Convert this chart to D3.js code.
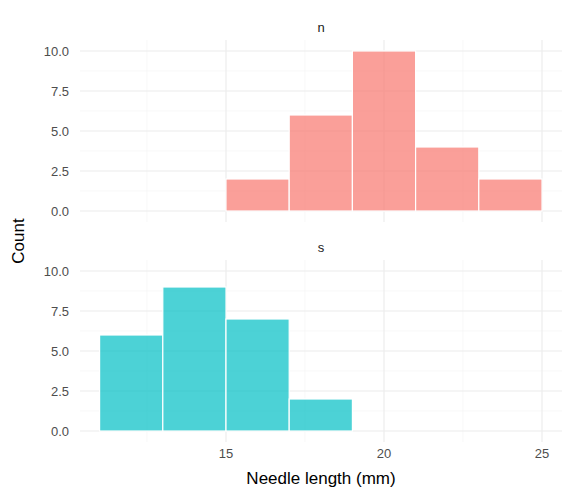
<!DOCTYPE html>
<html><head><meta charset="utf-8">
<script src="https://cdn.jsdelivr.net/npm/d3@7"></script>
<style>body{margin:0;background:#fff}</style></head>
<body><svg id="c" width="576" height="499"></svg>
<script>
const binStarts = [11,13,15,17,19,21,23];
const binWidth = 2;
const countsN = [0,0,2,6,10,4,2];
const countsS = [6,9,7,2,0,0,0];
const panels = ["n","s"];
const colors = ["#F8766D","#00BFC4"];
const xTicks = [15,20,25];
const yTicks = [0,2.5,5,7.5,10];

const svg = d3.select("#c");
const font = "Liberation Sans, Arial, sans-serif";
const x = d3.scaleLinear().domain([15,25]).range([226,542]);
const panelTops = [40,260], panelH = 182;
const L = 80, R = 562;
[countsN,countsS].forEach((counts,i)=>{
  const top = panelTops[i];
  const y = d3.scaleLinear().domain([0,10]).range([top+171,top+11]);
  const g = svg.append("g");
  // minor grid
  const xMin=[12.5,17.5,22.5], yMin=[1.25,3.75,6.25,8.75];
  xMin.forEach(v=>g.append("line").attr("x1",x(v)).attr("x2",x(v)).attr("y1",top).attr("y2",top+panelH).attr("stroke","#f3f3f3").attr("stroke-width",0.6));
  yMin.forEach(v=>g.append("line").attr("x1",L).attr("x2",R).attr("y1",y(v)).attr("y2",y(v)).attr("stroke","#f3f3f3").attr("stroke-width",0.6));
  xTicks.forEach(v=>g.append("line").attr("x1",x(v)).attr("x2",x(v)).attr("y1",top).attr("y2",top+panelH).attr("stroke","#ebebeb").attr("stroke-width",1.1));
  yTicks.forEach(v=>g.append("line").attr("x1",L).attr("x2",R).attr("y1",y(v)).attr("y2",y(v)).attr("stroke","#ebebeb").attr("stroke-width",1.1));
  g.selectAll("rect.b").data(counts.map((c,j)=>({c,s:binStarts[j]}))).enter().append("rect")
    .attr("x",d=>x(d.s)).attr("width",d=>x(d.s+binWidth)-x(d.s))
    .attr("y",d=>y(d.c)).attr("height",d=>y(0)-y(d.c))
    .attr("fill",colors[i]).attr("fill-opacity",0.7).attr("stroke","#fff").attr("stroke-width",1.2);
  yTicks.forEach(v=>g.append("text").attr("x",L-11).attr("y",y(v)).attr("dy","0.35em").attr("text-anchor","end")
    .attr("font-family",font).attr("font-size",13).attr("fill","#4d4d4d").text(v.toFixed(1)));
  g.append("text").attr("x",(L+R)/2).attr("y",top-8).attr("text-anchor","middle").attr("font-family",font)
    .attr("font-size",13).attr("fill","#1a1a1a").text(panels[i]);
});
const yB = 442;
xTicks.forEach(v=>svg.append("text").attr("x",x(v)).attr("y",yB+16).attr("text-anchor","middle")
  .attr("font-family",font).attr("font-size",13).attr("fill","#4d4d4d").text(v));
svg.append("text").attr("x",(L+R)/2).attr("y",484).attr("text-anchor","middle").attr("font-family",font)
  .attr("font-size",17).attr("fill","#000").text("Needle length (mm)");
svg.append("text").attr("transform","translate(24,241) rotate(-90)").attr("text-anchor","middle").attr("font-family",font)
  .attr("font-size",17).attr("fill","#000").text("Count");
</script></body></html>
